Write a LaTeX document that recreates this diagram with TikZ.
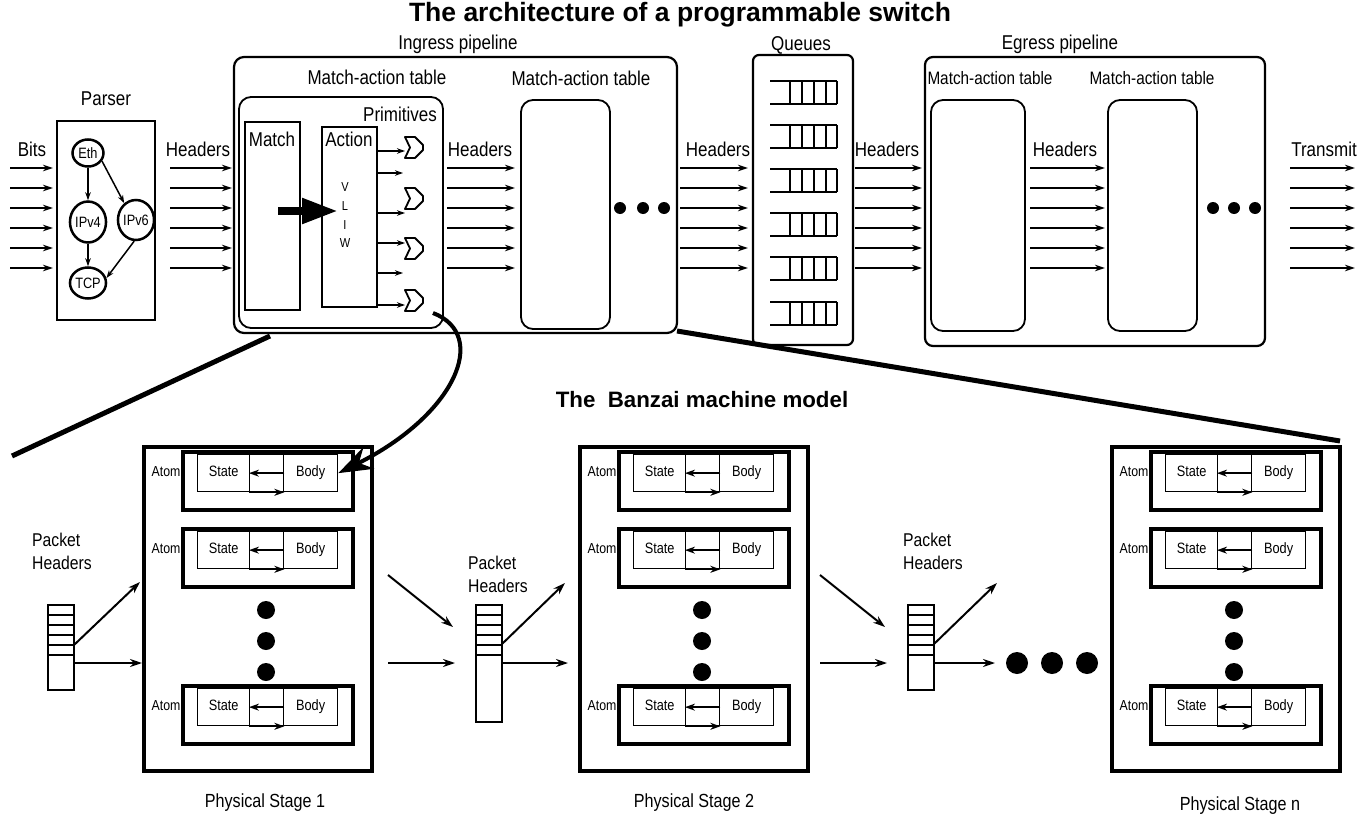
\documentclass[tikz,border=0pt]{standalone}
\usepackage{fontspec}
\setmainfont{Liberation Sans}[FakeStretch=0.85]
\newfontfamily\ttlfont{Liberation Sans}
\usetikzlibrary{arrows.meta,shapes.geometric}
\newcommand\fsz[1]{\fontsize{#1}{#1}\selectfont}
\newcommand\bx[6]{\node[#6, anchor=north west, inner sep=0pt, outer sep=0pt, minimum width={(#4-#2)*1pt}, minimum height={(#5-#3)*1pt}] (#1) at (#2,#3) {};}
\tikzset{
 lbl/.style={inner sep=0pt, font=\fsz{20}, text height=14pt, text depth=4pt},
 sml/.style={inner sep=0pt, font=\fsz{14.5}, text height=10.5pt, text depth=3pt},
 harr/.style={line width=1.8pt, -{Stealth[length=10pt,width=6.5pt]}},
 parr/.style={line width=1.5pt, -{Stealth[length=8pt,width=5.5pt]}},
 barr/.style={line width=2pt, -{Stealth[length=12pt,width=8pt]}},
 sarr/.style={line width=1.5pt, -{Stealth[length=10pt,width=7pt]}},
 ell/.style={draw, ellipse, line width=2.5pt, inner sep=0pt, font=\fsz{15}},
 zoomln/.style={line width=5pt},
 cell/.style={draw, line width=1.3pt, anchor=north west, inner sep=0pt, minimum height=37pt, font=\fsz{15}, text height=10.5pt, text depth=3pt},
}
\newcommand\harrows[3]{\foreach \yy [count=\i] in {168,188,208,228,248,268}{\coordinate (#1s\i) at (#2,\yy); \coordinate (#1e\i) at (#3,\yy); \draw[harr] (#1s\i) -- (#1e\i);}}
\newcommand\prim[3]{\draw[line width=1.8pt, line join=round] (#2,#3) coordinate (#1) -- ++(10,0) -- ++(8,8) -- ++(0,5) -- ++(-8,8) -- ++(-10,0) -- ++(5,-10.5) -- cycle;}
\newcommand\queue[1]{\draw[line width=2pt] (770,#1) -- (837,#1) (770,#1+23) -- (837,#1+23)
  \foreach \qx in {790,802,814,826,837}{(\qx,#1) -- (\qx,#1+23)};}
\newcommand\stagebox[2]{%
\begin{scope}[shift={(#1,0)}]
 \bx{#2}{0}{447}{228}{771}{draw, line width=4pt}
 \foreach \t/\k in {452/a,529/b,686/c}{
   \bx{#2\k}{39}{\t}{209}{\t+58}{draw, line width=4.5pt}
   \node[cell, minimum width=52pt] (#2\k-st) at (53,\t+2) {State};
   \node[cell, minimum width=34pt] (#2\k-md) at (105,\t+2) {};
   \node[cell, minimum width=54pt] (#2\k-bd) at (139,\t+2) {Body};
   \node[sml] at (22,\t+21) {Atom};
   \draw[sarr] (#2\k-md.east) -- (#2\k-md.west);
   \draw[sarr] (#2\k-md.south west) -- (#2\k-md.south east);
 }
 \foreach \dy in {610,641,672}{\fill (122,\dy) circle (9pt);}
\end{scope}}
\newcommand\stack[4]{% name, x, top, bottom
 \bx{#1}{#2}{#3}{#2+26}{#4}{draw, line width=1.8pt}
 \foreach \ly in {10,20,30,40,50}{\draw[line width=1.8pt] (#2,#3+\ly) -- (#2+26,#3+\ly);}}
\begin{document}
\begin{tikzpicture}[x=1pt,y=-1pt]
\useasboundingbox (0,0) rectangle (1361,819);
% titles
\node[inner sep=0pt, anchor=base, font=\ttlfont\fsz{26.5}\bfseries] (title) at (680,21) {The architecture of a programmable switch};
\node[lbl] (inglbl) at (458,44) {Ingress pipeline};
\node[lbl] (qlbl) at (801,45) {Queues};
\node[lbl] (eglbl) at (1060,44) {Egress pipeline};
\node[lbl] (parlbl) at (106,100) {Parser};
% parser
\bx{parser}{57}{121}{155}{320}{draw, line width=2pt}
\node[ell, minimum width=31pt, minimum height=27pt] (eth) at (88,153) {Eth};
\node[ell, minimum width=32pt, minimum height=41pt] (ipv4) at (88,222) {IPv4};
\node[ell, minimum width=33pt, minimum height=40pt] (ipv6) at (136,220) {IPv6};
\node[ell, minimum width=31pt, minimum height=31pt] (tcp) at (88,283) {TCP};
\draw[parr] (eth) -- (ipv4);
\draw[parr] (eth.-30) -- (ipv6.125);
\draw[parr] (ipv4) -- (tcp);
\draw[parr] (ipv6.-95) -- (tcp.15);
% header arrows and labels
\node[lbl] (bits) at (32,151) {Bits};
\harrows{ba}{10}{53}
\node[lbl] (h1) at (198,151) {Headers};
\harrows{hb}{170}{232}
\node[lbl] (h2) at (480,151) {Headers};
\harrows{hc}{447}{515}
\node[lbl] (h3) at (718,151) {Headers};
\harrows{hd}{680}{748}
\node[lbl] (h4) at (887,151) {Headers};
\harrows{he}{855}{922}
\node[lbl] (h5) at (1065,151) {Headers};
\harrows{hf}{1030}{1105}
\node[lbl] (tx) at (1324,151) {Transmit};
\harrows{hg}{1290}{1355}
% ingress
\bx{ingress}{234}{57}{677}{333}{draw, rounded corners=10pt, line width=2.2pt}
\node[lbl] (mat1lbl) at (377,79) {Match-action table};
\bx{mat1}{239}{97}{443}{328}{draw, rounded corners=12pt, line width=1.8pt}
\node[lbl] (primlbl) at (400,116) {Primitives};
\bx{match}{245}{122}{300}{310}{draw, line width=1.5pt}
\node[lbl] at (272,141) {Match};
\bx{action}{322}{127}{377}{307}{draw, line width=2.5pt}
\node[lbl] at (349,141) {Action};
\foreach \ch/\vy in {V/187,L/206,I/225,W/243}{\node[inner sep=0pt, font=\fsz{13}] at (345,\vy) {\ch};}
\coordinate (bigs) at (278,211);
\coordinate (bige) at (338,211);
\draw[line width=8pt, -{Triangle[length=36pt,width=24pt]}] (bigs) -- (bige);
\prim{p1}{405}{137}
\prim{p2}{405}{188}
\prim{p3}{405}{238}
\prim{p4}{405}{290}
\foreach \ay/\ax in {151/405,173/403,213/405,243/405,273/403,305/405}{\draw[parr] (action.east |- 0,\ay) -- (\ax,\ay);}
\bx{mat2}{521}{100}{610}{329}{draw, rounded corners=12pt, line width=1.8pt}
\node[lbl] (mat2lbl) at (581,80) {Match-action table};
\foreach \dx in {620,643,664}{\fill (\dx,208) circle (6pt);}
% queues
\bx{queues}{753}{55}{853}{345}{draw, rounded corners=6pt, line width=2.2pt}
\foreach \qy in {81,125,169,213,257,302}{\queue{\qy}}
% egress
\bx{egress}{925}{57}{1265}{346}{draw, rounded corners=8pt, line width=2.2pt}
\node[lbl, font=\fsz{18}] (emat1lbl) at (990,79) {Match-action table};
\node[lbl, font=\fsz{18}] (emat2lbl) at (1152,79) {Match-action table};
\bx{emat1}{931}{100}{1025}{331}{draw, rounded corners=12pt, line width=1.8pt}
\bx{emat2}{1108}{100}{1197}{331}{draw, rounded corners=12pt, line width=1.8pt}
\foreach \dx in {1213,1234,1255}{\fill (\dx,208) circle (6pt);}
% zoom lines
\coordinate (zla) at (270,336); \coordinate (zlb) at (12,456);
\coordinate (zra) at (677,331); \coordinate (zrb) at (1340,441);
\draw[zoomln] (zla) -- (zlb);
\draw[zoomln] (zra) -- (zrb);
% banzai
\node[inner sep=0pt, font=\ttlfont\fsz{22.3}\bfseries] (btitle) at (702,400) {The\ \ Banzai machine model};
\stagebox{144}{s1}
\stagebox{580}{s2}
\stagebox{1112}{sn}
\node[inner sep=0pt, font=\fsz{19}] at (265,803) {Physical Stage 1};
\node[inner sep=0pt, font=\fsz{19}] at (694,803) {Physical Stage 2};
\node[inner sep=0pt, font=\fsz{19}] at (1240,806) {Physical Stage n};
% curved arrow
\coordinate (cvs) at (433,313);
\draw[line width=4pt, -{Stealth[length=34pt,width=24pt]}] (cvs) .. controls (490,335) and (455,415) .. (s1a-bd.east);
% packet headers
\node[inner sep=0pt, anchor=west, align=left, font=\fontsize{18.5}{23}\selectfont] (ph1) at (32,551) {Packet\\Headers};
\node[inner sep=0pt, anchor=west, align=left, font=\fontsize{18.5}{23}\selectfont] (ph2) at (468,574) {Packet\\Headers};
\node[inner sep=0pt, anchor=west, align=left, font=\fontsize{18.5}{23}\selectfont] (ph3) at (903,551) {Packet\\Headers};
\stack{k1}{48}{605}{690}
\stack{k2}{476}{605}{722}
\stack{k3}{908}{605}{690}
% stage 1 arrows
\draw[barr] (74,645) -- (140,582);
\draw[barr] (74,663) -- (142,663);
% into stack 2
\draw[barr] (388,575) -- (453,627);
\draw[barr] (388,663) -- (455,663);
\draw[barr] (502,644) -- (565,583);
\draw[barr] (502,663) -- (568,663);
% into stack 3
\draw[barr] (820,575) -- (885,627);
\draw[barr] (820,663) -- (887,663);
\draw[barr] (934,644) -- (997,583);
\draw[barr] (934,663) -- (995,663);
\foreach \dx in {1017,1052,1087}{\fill (\dx,663) circle (11pt);}
\end{tikzpicture}
\end{document}
